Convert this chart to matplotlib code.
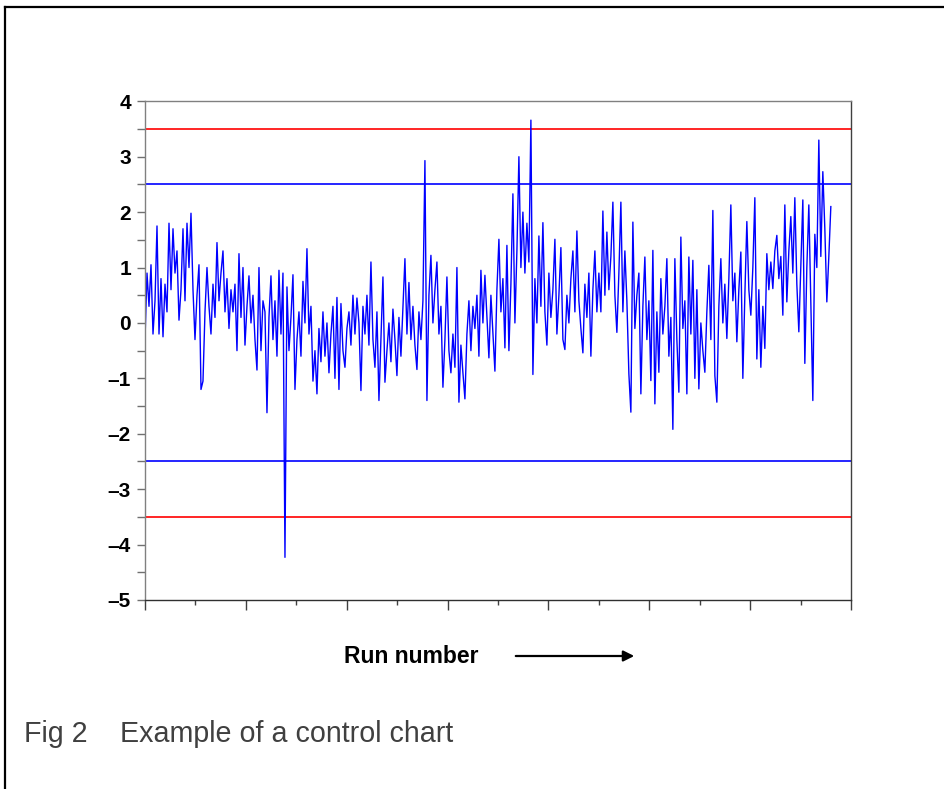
import numpy as np
import matplotlib
matplotlib.use('Agg')
import matplotlib.pyplot as plt
from matplotlib.lines import Line2D
from matplotlib.patches import FancyArrowPatch
from matplotlib.ticker import MultipleLocator, FuncFormatter

# definindo fonte parecida com Arial
plt.rcParams['font.family'] = ['Liberation Sans', 'DejaVu Sans']

# valores (um ponto a cada ~4 corridas)
valores = [
    -0.3, 0.9, 0.3, 1.05, -0.2, 0.4, 1.75, -0.2, 0.8, -0.25,
    0.7, 0.2, 1.8, 0.6, 1.7, 0.9, 1.3, 0.05, 0.6, 1.7,
    0.4, 1.8, 1.0, 1.98, 0.6, -0.3, 0.5, 1.05, -1.2, -1.05,
    0.2, 1.0, 0.3, -0.2, 0.7, 0.1, 1.45, 0.4, 0.9, 1.3,
    0.2, 0.8, -0.1, 0.6, 0.2, 0.7, -0.5, 1.25, 0.1, 1.0,
    -0.4, 0.3, 0.85, 0.0, 0.5, -0.3, -0.85, 1.0, -0.5, 0.4,
    0.2, -1.62, 0.1, 0.85, -0.3, 0.4, -0.6, 0.95, -0.2, 0.9,
    -4.23, 0.65, -0.5, 0.1, 0.87, -1.2, -0.3, 0.2, -0.6, 0.75,
    0.0, 1.34, -0.2, 0.3, -1.05, -0.5, -1.28, -0.1, -0.7, 0.2,
    -0.6, 0.0, -0.9, -0.2, 0.3, -1.0, 0.46, -1.2, 0.35, -0.5,
    -0.8, -0.1, 0.2, -0.4, 0.5, -0.2, 0.45, 0.0, -1.22, 0.3,
    -0.2, 0.5, -0.4, 1.1, -0.3, -0.8, 0.2, -1.4, -0.3, 0.83,
    -1.07, -0.5, 0.0, -0.7, 0.25, -0.3, -0.95, 0.1, -0.6, 0.3,
    1.16, -0.2, 0.73, -0.3, 0.3, -0.4, -0.84, 0.2, -0.3, 0.4,
    2.93, -1.4, 0.5, 1.22, 0.0, 0.6, 1.1, -0.2, 0.3, -1.16,
    -0.3, 0.83, -0.5, -0.9, -0.2, -0.8, 1.0, -1.43, -0.4, -0.9,
    -1.37, -0.2, 0.4, -0.5, 0.3, -0.1, 0.5, -0.6, 0.95, 0.0,
    0.86, 0.1, -0.63, 0.5, -0.2, -0.87, 0.6, 1.51, 0.2, 0.8,
    -0.45, 1.4, -0.5, 0.7, 2.33, 0.0, 1.3, 3.0, 1.0, 2.0,
    0.9, 1.8, 1.1, 3.66, -0.93, 0.8, 0.0, 1.57, 0.3, 1.81,
    0.2, -0.4, 0.9, 0.1, 0.6, 1.51, -0.2, 0.5, 1.36, -0.3,
    -0.48, 0.5, 0.0, 0.8, 1.3, 0.2, 1.66, 0.4, -0.1, -0.54,
    0.7, 0.1, 0.9, -0.6, 0.6, 1.3, 0.2, 0.9, 0.2, 2.02,
    0.5, 1.64, 0.6, 1.2, 2.18, 0.5, -0.17, 0.9, 2.18, 0.2,
    1.3, 0.4, -0.92, -1.61, 1.82, -0.1, 0.5, 0.9, -1.28, 0.3,
    1.19, -0.3, 0.4, -1.04, 1.31, -1.46, 0.2, -0.89, 0.8, -0.2,
    0.3, 1.16, -0.6, 0.1, -1.92, 1.16, -0.3, -1.25, 1.55, -0.1,
    0.4, -1.28, 1.19, -0.2, 1.13, -1.0, 0.6, -1.19, 0.0, -0.5,
    -0.89, 0.2, 1.04, -0.3, 2.03, -0.95, -1.43, 0.3, 1.16, 0.0,
    0.7, -0.28, 0.8, 2.13, 0.4, 0.9, -0.34, 0.6, 1.28, -1.0,
    0.5, 1.83, 0.6, 0.14, 1.0, 2.26, -0.65, 0.6, -0.8, 0.3,
    -0.46, 1.25, 0.6, 1.1, 0.62, 1.3, 1.58, 0.8, 1.2, 0.14,
    2.13, 0.38, 1.3, 1.92, 0.9, 2.26, 0.7, -0.16, 1.0, 2.22,
    -0.73, 1.0, 2.13, 0.4, -1.4, 1.6, 1.0, 3.3, 1.2, 2.73,
    1.7, 0.38, 1.2, 2.1,
]
# numero da corrida de cada ponto
ultima_corrida = 1360
corridas = np.linspace(0, ultima_corrida, len(valores))

# limites de controle
limites_alerta = [2.5, -2.5]
limites_acao = [3.5, -3.5]

# textos
rotulo_x = 'Run number'
legenda_fig = 'Fig 2'
legenda_texto = 'Example of a control chart'

# criando figura e eixos
fig = plt.figure(figsize=(9.45, 7.89), dpi=100)
ax = fig.add_axes([145 / 945, 1 - 600 / 789, 706 / 945, 498.7 / 789])

# linhas de controle
for lim in limites_acao:
    ax.axhline(lim, color='#ff0000', lw=1.2, zorder=1)
for lim in limites_alerta:
    ax.axhline(lim, color='#0000ff', lw=1.2, zorder=1)

# serie de dados
ax.plot(corridas, valores, color='#0000ff', lw=1.0, zorder=2)

# limites dos eixos
ax.set_xlim(0, 1400)
ax.set_ylim(-5, 4)

# ticks do eixo y
ax.yaxis.set_major_locator(MultipleLocator(1))
ax.yaxis.set_minor_locator(MultipleLocator(0.5))
ax.yaxis.set_major_formatter(FuncFormatter(
    lambda v, p: ('\u2013%d' % abs(v)) if v < 0 else '%d' % v))
ax.tick_params(axis='y', which='both', direction='out', length=6,
               width=1, color='#707070', pad=4)
ax.tick_params(axis='y', which='major', labelsize=15)
for t in ax.get_yticklabels():
    t.set_fontweight('bold')

# ticks do eixo x (sem rotulos)
ax.xaxis.set_major_locator(MultipleLocator(200))
ax.xaxis.set_minor_locator(MultipleLocator(100))
ax.tick_params(axis='x', which='major', direction='out', length=7,
               width=1, color='#404040', labelbottom=False)
ax.tick_params(axis='x', which='minor', direction='out', length=3.5,
               width=1, color='#404040')

# cores das bordas
ax.spines['left'].set_color('#808080')
ax.spines['top'].set_color('#808080')
ax.spines['right'].set_color('#404040')
ax.spines['bottom'].set_color('#303030')
for s in ax.spines.values():
    s.set_linewidth(1.0)

# rotulo do eixo x e seta
fig.text(411 / 945, 1 - 663 / 789, rotulo_x, ha='center', va='baseline',
         fontsize=16.5, fontweight='bold')
seta = FancyArrowPatch((513 / 945, 1 - 656 / 789), (637 / 945, 1 - 656 / 789),
                       transform=fig.transFigure, arrowstyle='-|>',
                       mutation_scale=16, lw=1.6, color='black')
fig.add_artist(seta)

# legenda da figura
fig.text(24 / 945, 1 - 742 / 789, legenda_fig, ha='left', va='baseline',
         fontsize=20.6, color='#404040')
fig.text(120 / 945, 1 - 742 / 789, legenda_texto, ha='left', va='baseline',
         fontsize=20.6, color='#404040')

# moldura (esquerda e topo)
xm = 5.5 / 945
ym = 1 - 6.5 / 789
fig.add_artist(Line2D([xm, xm], [0, ym], transform=fig.transFigure,
                      color='black', lw=1.6))
fig.add_artist(Line2D([xm, 1], [ym, ym], transform=fig.transFigure,
                      color='black', lw=1.6))

fig.savefig('out.png', dpi=100)
